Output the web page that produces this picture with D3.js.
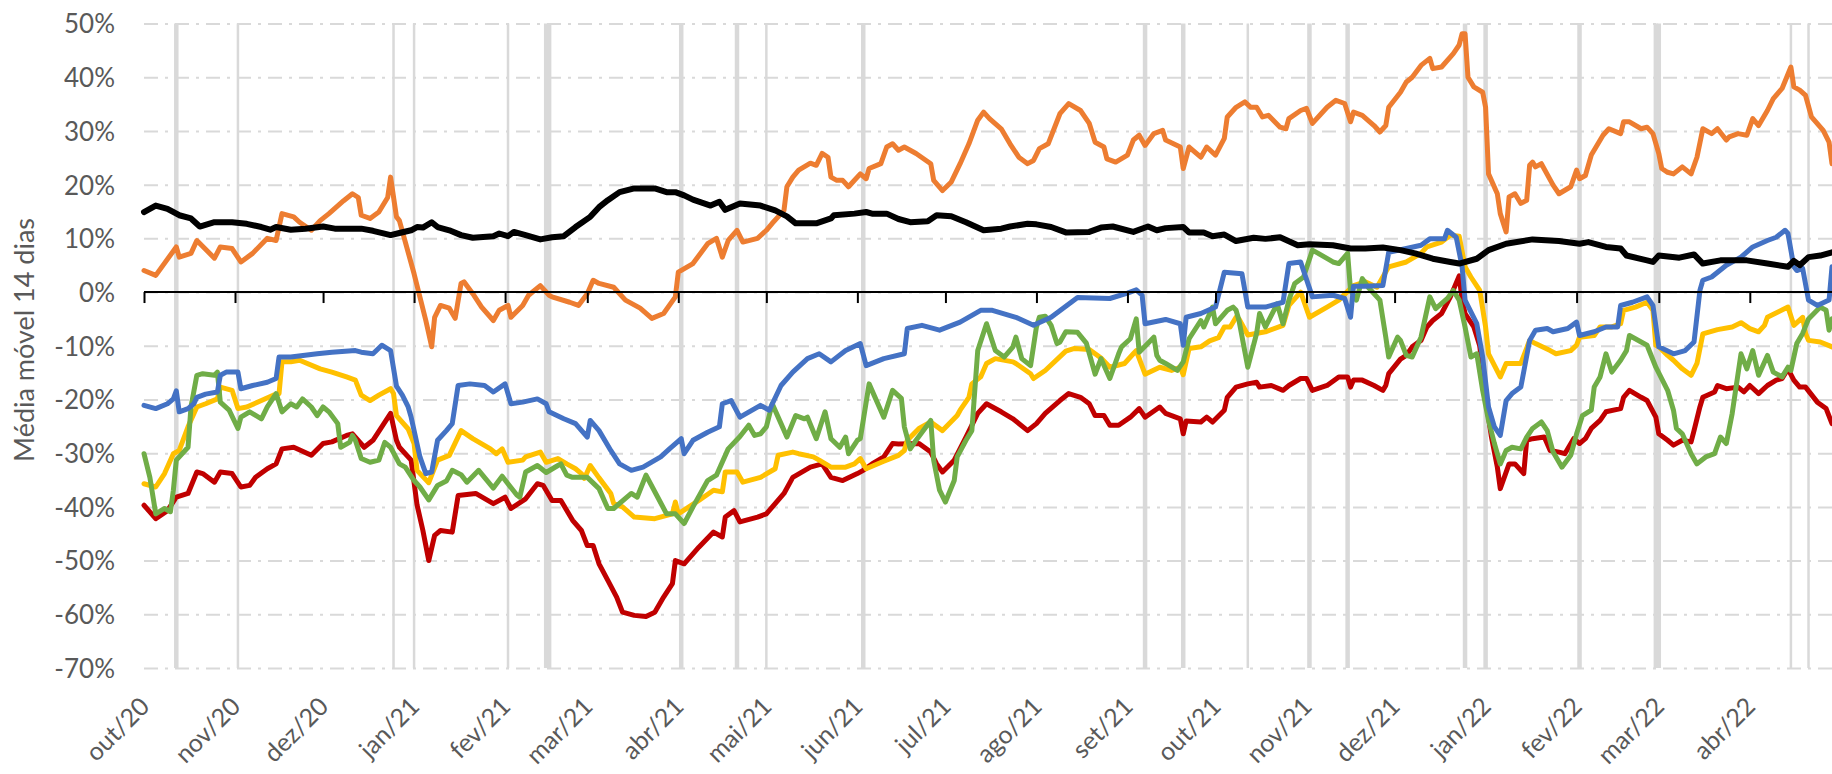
<!DOCTYPE html>
<html>
<head>
<meta charset="utf-8">
<script src="https://cdn.jsdelivr.net/npm/d3@7"></script>
<style>
  body { margin: 0; background: #fff; }
  text { font-family: Lato, "Open Sans", sans-serif; fill: #595959; }
</style>
</head>
<body>
<script>
// days counted from 1 Oct 2020, values in %
var tickLabels = ["out/20","nov/20","dez/20","jan/21","fev/21","mar/21","abr/21","mai/21","jun/21",
  "jul/21","ago/21","set/21","out/21","nov/21","dez/21","jan/22","fev/22","mar/22","abr/22"];
var yTicks = [50, 40, 30, 20, 10, 0, -10, -20, -30, -40, -50, -60, -70];

// holidays (grey columns), day index
var holidays = [11, 32, 85, 92, 124, 137, 138, 183, 202, 212, 245, 341, 354, 376, 397, 410, 450, 457, 489, 515, 516, 561, 567];
var thinHolidays = [32, 85, 92, 124, 212, 376, 561, 567];

var orange = [[0,4.0],[4,3.1],[11,8.4],[12,6.5],[16,7.2],[18,9.6],[24,6.3],[26,8.4],[30,8.1],[33,5.6],[37,7.2],[42,10],[45,9.6],[47,14.6],[51,14],[53,13],[57,11.5],[60,13.3],[63,14.6],[68,17],[71,18.3],[73,17.6],[74,14.3],[77,13.7],[80,14.9],[83,17.6],[84,21.4],[86,14],[87,13.3],[92,3.4],[96,-5.3],[98,-10.2],[99,-4.7],[101,-2.5],[104,-3],[106,-4.9],[108,1.6],[109,1.9],[112,-0.3],[115,-2.8],[119,-5.3],[121,-3.4],[124,-2.5],[125,-4.7],[129,-2.5],[131,-0.6],[135,1.2],[138,-0.6],[139,-0.9],[145,-1.9],[148,-2.5],[151,-0.3],[153,2.2],[155,1.6],[160,0.9],[164,-1.5],[169,-3],[173,-4.9],[177,-4],[181,-0.9],[182,3.7],[187,5.3],[192,9],[195,10],[197,6.5],[199,9.6],[202,11.5],[204,9.3],[209,10],[212,11.5],[214,12.8],[216,14],[218,15.2],[219,19.6],[221,21.4],[223,22.7],[227,24],[229,23.6],[231,25.8],[233,25.1],[234,21.4],[236,20.8],[238,20.8],[240,19.6],[241,20.2],[244,22],[246,21.1],[247,23],[251,23.9],[253,27],[255,27.6],[257,26.4],[259,27],[261,26.4],[263,25.8],[268,23.9],[269,20.8],[272,18.9],[275,20.5],[278,23.9],[281,27.6],[284,32],[286,33.5],[288,32.3],[292,30.4],[295,27.6],[298,25.1],[301,23.9],[303,24.5],[305,26.7],[308,27.6],[312,33.2],[315,35.1],[319,33.8],[322,31.4],[324,27.9],[327,27],[328,24.8],[331,24.2],[335,25.5],[337,28.3],[339,29.2],[341,27.3],[344,29.5],[347,30.1],[348,28.3],[353,27],[354,23],[356,27],[360,25.1],[362,27],[365,25.5],[368,28.6],[369,32.6],[372,34.4],[375,35.4],[377,34.4],[379,34.4],[381,32.6],[383,32.9],[387,30.7],[389,30.4],[390,32.3],[394,33.8],[396,34.2],[398,31.4],[403,34.4],[406,35.7],[409,35.1],[411,31.7],[412,33.5],[415,32.9],[419,31],[421,29.8],[423,31],[424,34.4],[428,37.2],[430,39.1],[432,40],[435,42.2],[438,43.5],[439,41.6],[442,41.9],[446,44.4],[448,46],[449,48.1],[450,48.1],[451,40],[453,38.2],[456,37.2],[457,34.4],[458,22],[461,18.3],[462,14.6],[464,11.2],[465,17.7],[467,18.3],[469,16.5],[471,17.1],[472,23.6],[473,24.2],[474,23.3],[476,23.9],[480,19.9],[482,18.3],[486,19.6],[488,22.7],[489,21.1],[491,21.7],[493,25.5],[497,29.2],[499,30.4],[503,29.5],[504,31.7],[506,31.7],[510,30.4],[512,30.7],[514,29.5],[516,25.8],[517,23],[519,22.3],[521,22],[524,23.3],[527,22],[529,25.1],[531,30.4],[534,29.5],[536,30.4],[539,28.3],[540,28.9],[543,29.5],[546,29.2],[548,32.3],[550,31],[553,33.8],[555,36],[558,37.9],[561,41.9],[562,38.2],[564,37.6],[566,36.6],[568,32.6],[572,30.1],[574,27.9],[575,23.9]];

var black = [[0,14.9],[4,16.1],[8,15.5],[12,14.3],[16,13.7],[19,12.2],[24,13],[30,13],[35,12.7],[40,12.1],[43,11.6],[45,12.1],[50,11.6],[55,11.8],[61,12.2],[65,11.8],[74,11.8],[78,11.4],[84,10.6],[87,11],[91,11.5],[93,12.1],[95,12],[98,13],[100,12.1],[104,11.5],[108,10.6],[112,10.1],[119,10.4],[121,10.9],[124,10.4],[126,11.2],[130,10.6],[135,9.8],[139,10.2],[143,10.4],[147,12.1],[152,14],[155,15.8],[158,17.1],[162,18.6],[167,19.3],[174,19.3],[178,18.6],[181,18.6],[184,18],[187,17.2],[193,16.1],[196,16.8],[198,15.3],[203,16.5],[210,16.1],[215,15.2],[219,14.1],[222,12.8],[229,12.8],[234,13.7],[235,14.3],[242,14.6],[246,14.9],[248,14.6],[253,14.6],[257,13.6],[261,13],[267,13.2],[270,14.3],[275,14.1],[280,13],[286,11.5],[292,11.8],[295,12.2],[301,12.7],[304,12.6],[309,12.1],[314,11.1],[322,11.2],[326,12],[330,12.2],[337,11.2],[342,12.2],[345,11.5],[348,11.9],[354,12.1],[356,11.1],[361,11.1],[364,10.4],[368,10.7],[372,9.5],[378,10.1],[382,9.9],[387,10.2],[393,8.7],[397,8.9],[405,8.7],[411,8.1],[416,8.1],[422,8.3],[428,7.8],[433,7.2],[439,6.2],[445,5.6],[448,5.3],[454,6.2],[458,7.8],[464,9],[473,9.8],[482,9.5],[489,9],[492,9.3],[498,8.4],[503,8.1],[505,6.8],[512,5.9],[514,5.6],[516,6.8],[523,6.4],[528,7],[531,5.3],[537,5.9],[546,5.9],[553,5.3],[560,4.7],[562,5.8],[564,5],[567,6.5],[571,6.8],[575,7.4]];

var blue = [[0,-21.1],[4,-21.7],[8,-20.8],[10,-19.9],[11,-18.4],[12,-22.3],[15,-21.7],[17,-20.8],[18,-19.6],[21,-19],[25,-18.6],[26,-15.5],[28,-14.9],[32,-14.9],[33,-18],[37,-17.4],[42,-16.8],[45,-16.1],[46,-12.1],[50,-12.1],[59,-11.5],[64,-11.2],[72,-10.9],[74,-11.2],[78,-11.5],[81,-9.9],[84,-10.9],[86,-17.5],[88,-19.2],[90,-21.4],[91,-23.3],[94,-30.7],[96,-33.8],[98,-33.5],[100,-27.6],[103,-25.8],[105,-24.5],[107,-17.4],[111,-17.1],[116,-17.4],[119,-18.6],[123,-17.1],[125,-20.8],[129,-20.5],[134,-19.9],[137,-20.8],[138,-22.3],[143,-23.6],[147,-24.5],[151,-27],[152,-23.9],[155,-25.8],[159,-29.5],[162,-32],[166,-33.2],[170,-32.6],[176,-30.7],[179,-29.2],[183,-27.3],[184,-30.1],[187,-27.6],[192,-26.1],[196,-25.1],[197,-20.8],[200,-20.2],[203,-23.3],[210,-21.1],[213,-22],[217,-17.4],[221,-14.9],[226,-12.4],[230,-11.5],[234,-13],[239,-10.9],[244,-9.6],[246,-13.7],[252,-12.4],[259,-11.5],[260,-6.8],[265,-6.2],[271,-7.1],[278,-5.6],[285,-3.4],[289,-3.4],[297,-4.7],[303,-6.2],[309,-4.7],[318,-1],[329,-1.2],[335,-0.2],[338,0.4],[340,-0.6],[341,-5.9],[348,-5.1],[353,-5.9],[354,-9.9],[355,-4.7],[360,-4],[365,-2.8],[368,3.7],[374,3.4],[376,-2.8],[382,-2.8],[388,-1.9],[390,5.3],[394,5.6],[398,-0.9],[405,-0.6],[409,-1.2],[411,-4.7],[412,1.1],[416,1.1],[422,1.2],[424,7.4],[430,8.1],[435,8.7],[438,9.9],[443,9.9],[444,11.5],[447,10.2],[449,4.7],[450,-1.5],[454,-5.9],[456,-12.1],[458,-21.4],[460,-25.1],[462,-26.7],[464,-20.2],[466,-18.9],[469,-17.7],[472,-9],[474,-7.1],[478,-6.8],[480,-7.4],[485,-6.8],[488,-5.6],[489,-8.1],[494,-7.4],[498,-6.5],[502,-6.5],[503,-2.5],[507,-1.9],[512,-0.9],[514,-2.5],[516,-10.2],[521,-11.5],[525,-10.9],[528,-9.3],[530,0.3],[531,2.2],[534,2.8],[539,5],[544,6.5],[548,8.4],[553,9.6],[556,10.2],[559,11.5],[560,10.9],[562,4.7],[563,4],[565,4.4],[567,-1.5],[570,-2.5],[574,-1.5],[575,4.7]];

var yellow = [[0,-35.7],[4,-36.3],[7,-33.8],[10,-30.1],[12,-29.5],[15,-25.1],[18,-21.4],[21,-20.8],[25,-19.9],[26,-17.7],[30,-18.3],[32,-21.7],[35,-21.4],[40,-20.2],[44,-19.2],[46,-18.9],[47,-13],[50,-13],[53,-12.7],[60,-14.3],[64,-14.9],[69,-15.8],[72,-16.4],[74,-19.2],[77,-20.2],[80,-19.2],[84,-18],[85,-18.9],[86,-23],[90,-25.5],[92,-28.2],[93,-33.2],[97,-35.5],[100,-31.3],[104,-30.4],[108,-25.8],[112,-27.3],[118,-29.2],[120,-30.1],[122,-29.2],[124,-31.7],[129,-31.3],[130,-30.7],[135,-29.8],[137,-31.7],[141,-31],[144,-32],[147,-32.9],[149,-33.8],[150,-34.7],[152,-32.3],[155,-34.6],[159,-37.5],[160,-39.4],[163,-40],[167,-41.9],[174,-42.2],[180,-41.3],[181,-39.1],[182,-41.3],[189,-38.8],[194,-36.9],[197,-37.2],[198,-33.5],[202,-33.5],[204,-35.4],[210,-34.5],[215,-32.9],[216,-30.4],[221,-29.8],[223,-30.1],[228,-30.7],[230,-31.3],[234,-32.6],[239,-32.6],[242,-32],[244,-31],[246,-32.9],[252,-31.5],[257,-30.4],[259,-29.5],[260,-27.6],[264,-25.4],[268,-24.2],[272,-25.8],[277,-23],[278,-22],[281,-19.6],[282,-17.1],[285,-15.8],[287,-13.3],[290,-12.4],[296,-13],[297,-13.3],[302,-15.2],[303,-16.1],[307,-14.6],[314,-11],[317,-10.5],[322,-10.7],[326,-12.3],[329,-14],[334,-13.3],[335,-12.7],[337,-11.5],[338,-10.9],[341,-15.3],[346,-14],[350,-14.6],[353,-14],[354,-15.4],[356,-10.5],[360,-10.2],[363,-9.1],[366,-8.5],[368,-6.5],[370,-6.5],[372,-4.7],[373,-5],[376,-8],[382,-7.4],[388,-6.2],[390,-2.5],[394,0],[397,-4.7],[403,-2.8],[407,-1.5],[412,1.2],[416,1.9],[420,0.9],[424,4.7],[430,5.6],[435,7.2],[437,8.4],[442,9.3],[445,10.6],[448,10.4],[450,4.7],[452,2.8],[455,0.3],[457,-6.5],[458,-11.5],[462,-15.8],[464,-13.3],[469,-13.3],[472,-9],[474,-9.6],[479,-10.9],[481,-11.5],[486,-10.9],[488,-9.9],[489,-8.4],[494,-8.1],[496,-6.5],[500,-6.5],[503,-5.9],[504,-3.4],[508,-2.8],[512,-1.9],[514,-3.4],[515,-9.9],[516,-10.2],[519,-11.8],[521,-12.7],[524,-14.3],[527,-15.5],[529,-13.3],[531,-7.8],[536,-7],[541,-6.5],[544,-5.7],[547,-6.8],[550,-7.4],[552,-6.2],[553,-4.7],[560,-2.8],[562,-6.2],[565,-4.7],[566,-7.7],[567,-9],[571,-9.3],[575,-10.2]];

var green = [[0,-30.1],[2,-34.5],[4,-41.3],[7,-40.3],[9,-40.9],[10,-36.9],[11,-31.3],[15,-28.9],[16,-21.4],[18,-15.5],[20,-15.2],[24,-15.5],[25,-14.9],[26,-20.5],[29,-22],[32,-25.4],[33,-23.3],[36,-22.3],[40,-23.6],[42,-21.4],[45,-18.9],[47,-22.3],[50,-20.8],[52,-21.4],[54,-19.9],[57,-21.4],[59,-23],[61,-21.4],[63,-22.3],[66,-24.5],[67,-28.9],[70,-28],[71,-26.7],[72,-27.6],[74,-31],[77,-31.7],[80,-31.3],[82,-28],[84,-28.9],[87,-32],[89,-32.6],[92,-35.1],[94,-36.3],[97,-38.7],[100,-36],[103,-35.2],[105,-33.2],[108,-34],[110,-35.4],[114,-33.2],[119,-36.5],[122,-34.3],[127,-37.8],[128,-38.2],[130,-33.5],[134,-32.3],[137,-33.6],[141,-32.3],[142,-32],[144,-34.1],[146,-34.5],[151,-34.5],[155,-36.6],[158,-40.3],[160,-40.3],[166,-37.5],[168,-38.2],[171,-34.1],[175,-38.2],[178,-41.3],[181,-41.3],[184,-43.1],[187,-40],[192,-35.1],[195,-34.1],[199,-29.2],[203,-26.9],[206,-24.8],[208,-26.7],[210,-26.4],[212,-25.1],[214,-20.8],[217,-24.5],[219,-27],[222,-23],[225,-23.6],[226,-23.3],[229,-27.3],[232,-22.3],[234,-27.3],[237,-28.9],[239,-27],[240,-30.1],[243,-27.6],[244,-27.3],[247,-17.1],[252,-23.3],[255,-18.3],[258,-19.8],[259,-25.1],[261,-29.2],[263,-27.6],[268,-23.9],[269,-31.3],[271,-36.9],[273,-39.1],[276,-35.1],[277,-30.7],[280,-27.6],[282,-25.8],[284,-10.9],[287,-5.9],[290,-10.9],[293,-12.1],[296,-10.2],[297,-8.4],[299,-12.4],[302,-13.7],[304,-6.5],[305,-4.7],[307,-4.5],[309,-6.2],[311,-9.6],[312,-9.3],[314,-7.4],[318,-7.5],[321,-9.5],[324,-15.3],[326,-12.4],[329,-16.1],[332,-11.5],[333,-10.2],[336,-8.7],[338,-5],[339,-11.2],[344,-8.4],[345,-11.8],[346,-12.7],[348,-13.3],[352,-14.6],[354,-13],[356,-8.7],[360,-5.3],[361,-6.5],[364,-2.8],[365,-5.9],[369,-3.4],[371,-2.8],[372,-3.4],[373,-5.3],[376,-14],[379,-7.7],[380,-4],[382,-6.5],[386,-2.2],[388,-5.9],[390,-1.5],[392,1.6],[395,2.8],[398,7.8],[400,7.2],[405,5.6],[407,5.3],[410,7.2],[411,0.3],[413,-1.5],[415,2.5],[417,0.9],[421,-1.5],[423,-8.4],[424,-12.1],[427,-8.4],[428,-9],[430,-11.8],[432,-12.1],[435,-8.4],[438,-0.9],[440,-3.1],[444,-1.2],[446,0.3],[448,-1.5],[450,-6.5],[452,-12.1],[454,-11.5],[456,-18.3],[458,-23.9],[460,-28.2],[462,-32],[464,-29.5],[466,-28.9],[469,-29.2],[471,-27],[473,-25.4],[476,-24.2],[478,-25.8],[480,-29.8],[483,-32.6],[486,-30.4],[488,-26.4],[490,-23],[493,-22],[494,-17.7],[496,-15.8],[498,-11.5],[500,-14.9],[503,-12.7],[505,-10.9],[506,-8.1],[510,-9.3],[512,-9.9],[515,-14],[519,-18.3],[521,-22],[522,-25.4],[524,-26.4],[527,-30.1],[529,-32],[532,-30.7],[535,-30.1],[537,-27],[539,-28.2],[541,-22.6],[543,-15.2],[544,-11.5],[546,-14.3],[548,-10.9],[550,-15.5],[553,-11.8],[555,-14.9],[558,-15.8],[560,-14],[561,-14.6],[563,-9.6],[565,-7.7],[567,-5],[571,-2.8],[573,-3.4],[574,-7.1],[575,-5]];

var red = [[0,-39.7],[4,-42.2],[8,-40.7],[11,-38.2],[15,-37.5],[18,-33.5],[20,-33.8],[24,-35.4],[26,-33.5],[30,-33.8],[33,-36.3],[36,-36],[38,-34.5],[42,-32.9],[45,-32],[47,-29.2],[51,-28.9],[57,-30.4],[61,-28.2],[64,-27.9],[69,-26.7],[71,-26.4],[75,-28.9],[78,-27.6],[81,-25.1],[84,-22.6],[86,-27.6],[87,-28.9],[91,-31.3],[93,-39.6],[95,-44.4],[97,-50],[99,-45.3],[101,-44.4],[105,-44.7],[107,-37.9],[113,-37.5],[119,-39.4],[123,-38.2],[125,-40.3],[130,-38.5],[134,-35.7],[136,-36],[139,-38.8],[142,-38.8],[146,-42.5],[149,-44.4],[151,-47.2],[153,-47.2],[155,-50.6],[158,-53.7],[161,-56.8],[163,-59.6],[167,-60.2],[171,-60.4],[174,-59.6],[177,-56.8],[180,-54.3],[181,-50],[184,-50.6],[189,-47.5],[194,-44.7],[197,-45.6],[198,-41.9],[201,-40.7],[203,-42.8],[209,-41.9],[212,-41.3],[215,-39.4],[218,-37.5],[221,-34.5],[227,-32.6],[231,-32],[234,-34.5],[238,-35.1],[243,-33.8],[245,-33.2],[248,-32],[252,-30.7],[255,-28.2],[257,-28.3],[264,-28.2],[268,-29.8],[270,-32],[272,-33.5],[276,-31.3],[280,-27],[284,-22.6],[287,-20.8],[292,-22.3],[296,-23.6],[301,-25.8],[304,-24.5],[307,-22.6],[312,-20.2],[315,-18.9],[319,-19.6],[322,-20.8],[324,-23],[327,-23],[329,-24.8],[332,-24.8],[336,-23.3],[339,-21.7],[341,-23.3],[346,-21.4],[348,-22.6],[353,-23.6],[354,-26.4],[355,-24],[360,-24.2],[362,-23.3],[364,-24.2],[368,-22],[369,-19.6],[372,-17.7],[376,-17.1],[379,-16.8],[380,-17.7],[384,-17.4],[388,-18.3],[390,-17.4],[394,-16.1],[396,-16.1],[398,-18.3],[403,-17.4],[407,-15.8],[410,-15.8],[411,-17.7],[412,-16.4],[415,-16.4],[419,-17.4],[422,-18.3],[423,-17.4],[424,-15.2],[428,-12.5],[430,-11.8],[432,-10.2],[435,-9],[437,-6.5],[439,-5.3],[442,-4],[445,-0.9],[448,3],[449,-1.5],[450,-4],[453,-6.5],[455,-10],[457,-19.6],[459,-27],[461,-32.6],[462,-36.6],[465,-32],[467,-32],[470,-33.8],[471,-27.6],[473,-27.3],[477,-27],[479,-29.5],[482,-29.8],[484,-30.1],[487,-27.3],[489,-28.2],[491,-27.3],[493,-25.4],[496,-23.9],[498,-22.3],[503,-21.7],[504,-19.6],[506,-18.3],[510,-19.6],[512,-20.2],[515,-23.3],[516,-26.4],[519,-27.6],[521,-28.5],[524,-27.6],[527,-27.9],[528,-25.8],[530,-21.4],[531,-19.6],[535,-18.6],[536,-17.4],[539,-18],[543,-17.7],[545,-18.6],[547,-17.4],[550,-18.9],[553,-17.4],[556,-16.4],[558,-16.1],[560,-14.3],[562,-16.4],[564,-17.7],[566,-17.7],[570,-20.5],[573,-21.7],[575,-24.5]];

window.onload = function(){
    var w = 1832, h = 774;
    var start = new Date(2020, 9, 1);
    var dayToDate = function(d){ return d3.timeDay.offset(start, d); };

    var svg = d3.select("body").append("svg")
        .attr("width", w)
        .attr("height", h);

    var x = d3.scaleTime()
        .domain([start, dayToDate(575)])
        .range([144, 1832]);

    var y = d3.scaleLinear()
        .domain([-70, 50])
        .range([668, 23.5]);

    // horizontal gridlines
    var grid = svg.append("g")
        .attr("transform", "translate(144,0)")
        .call(d3.axisLeft(y).tickValues(yTicks).tickSize(-(1832 - 144)).tickFormat(""));
    grid.select(".domain").remove();
    grid.selectAll("line")
        .attr("stroke", "#d9d9d9")
        .attr("stroke-width", 2)
        .attr("stroke-dasharray", "14,7,3,7");

    // grey holiday columns
    var colWidth = function(d){ return thinHolidays.indexOf(d) >= 0 ? 2.5 : 4.5; };
    svg.selectAll(".holiday")
        .data(holidays)
        .enter()
        .append("rect")
        .attr("class", "holiday")
        .attr("x", function(d){ return x(dayToDate(d + 0.6)) - colWidth(d) / 2; })
        .attr("width", colWidth)
        .attr("y", y(50))
        .attr("height", y(-70) - y(50))
        .attr("fill", "#d9d9d9");

    // y labels
    var yAxis = svg.append("g")
        .attr("transform", "translate(115,0)")
        .call(d3.axisLeft(y).tickValues(yTicks).tickSize(0).tickFormat(function(d){ return d + "%"; }));
    yAxis.select(".domain").remove();
    yAxis.selectAll("text")
        .style("font-size", "26px")
        .attr("dy", "0.36em")
        .attr("x", 0);

    // axis title
    svg.append("text")
        .attr("transform", "translate(34,340) rotate(-90)")
        .attr("text-anchor", "middle")
        .style("font-size", "27px")
        .text("Média móvel 14 dias");

    // series lines
    var line = d3.line()
        .x(function(d){ return x(dayToDate(d[0])); })
        .y(function(d){ return y(d[1]); });

    var series = [
        { data: red, color: "#c00000", width: 5 },
        { data: yellow, color: "#ffc000", width: 5 },
        { data: green, color: "#70ad47", width: 5 },
        { data: blue, color: "#4472c4", width: 5 },
        { data: orange, color: "#ed7d31", width: 5 },
        { data: black, color: "#000000", width: 6 }
    ];

    svg.selectAll(".serie")
        .data(series)
        .enter()
        .append("path")
        .attr("class", "serie")
        .attr("d", function(d){ return line(d.data); })
        .attr("fill", "none")
        .attr("stroke", function(d){ return d.color; })
        .attr("stroke-width", function(d){ return d.width; })
        .attr("stroke-linejoin", "round")
        .attr("stroke-linecap", "round");

    // month ticks along the 0% line
    var monthDates = tickLabels.map(function(t, i){ return d3.timeMonth.offset(start, i); });
    var xAxis = svg.append("g")
        .attr("transform", "translate(0," + y(0) + ")")
        .call(d3.axisBottom(x).tickValues(monthDates).tickSize(11).tickSizeOuter(0).tickFormat(""));
    xAxis.select(".domain")
        .attr("stroke", "#000")
        .attr("stroke-width", 2)
        .attr("d", "M144,0H1832");
    xAxis.selectAll("line")
        .attr("stroke", "#000")
        .attr("stroke-width", 2);

    // month labels along the bottom, rotated
    svg.selectAll(".mlabel")
        .data(monthDates)
        .enter()
        .append("text")
        .attr("class", "mlabel")
        .attr("text-anchor", "end")
        .attr("transform", function(d){ return "translate(" + (x(d) + 7) + ",708) rotate(-45)"; })
        .style("font-size", "25px")
        .text(function(d, i){ return tickLabels[i]; });
};
</script>
</body>
</html>
